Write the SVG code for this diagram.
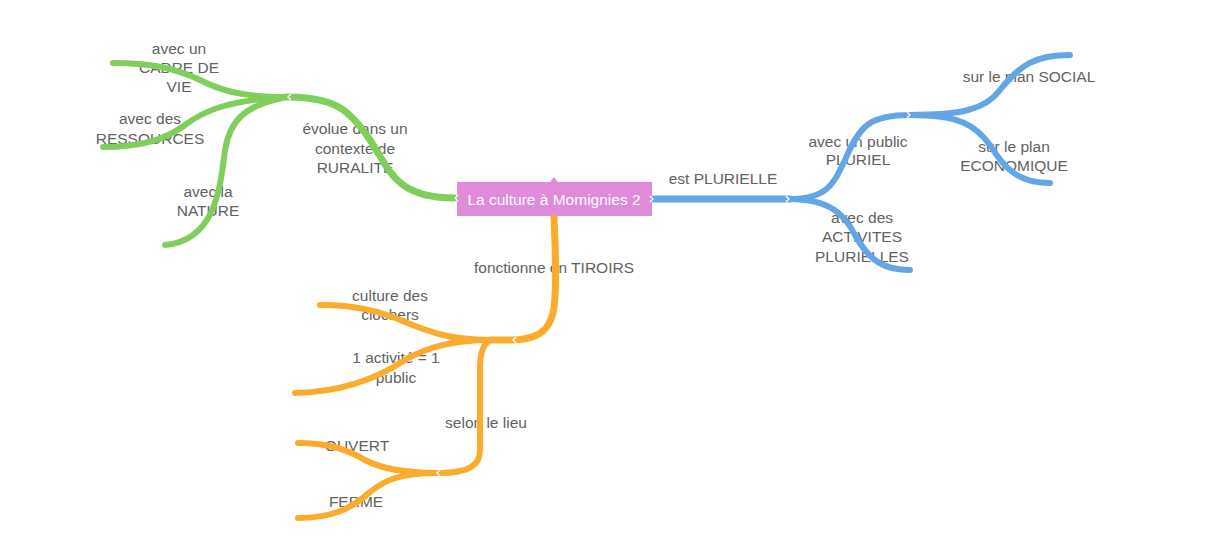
<svg xmlns="http://www.w3.org/2000/svg" width="1225" height="551" viewBox="0 0 1225 551">
<style>
.t{font-family:"Liberation Sans",Arial,sans-serif;font-size:15.5px;fill:#626262;text-anchor:middle}
.ct{font-family:"Liberation Sans",Arial,sans-serif;font-size:15.5px;fill:#fff;text-anchor:middle}
.g{stroke:#80cf5d;fill:none;stroke-linecap:round}
.b{stroke:#62a6e6;fill:none;stroke-linecap:round}
.o{stroke:#fcab2c;fill:none;stroke-linecap:round}
.m{stroke-width:7}
.s{stroke-width:6}
.ch{stroke:#fff;stroke-width:1.3;fill:none}
</style>
<rect width="1225" height="551" fill="#fff"/>
<g id="center">
<rect x="457" y="182" width="195" height="34" fill="#e08bd9"/>
<path d="M550,182 L554,177 L558,182 Z M550,216 L554,221 L558,216 Z" fill="#e08bd9"/>
<text class="ct" x="554" y="204.5">La culture à Momignies 2</text>
</g>
<g id="n-ruralite"><text class="t" x="355" y="134">évolue dans un</text><text class="t" x="355" y="154">contexte de</text><text class="t" x="355" y="173">RURALITE</text></g>
<g id="n-cadre"><text class="t" x="179" y="54">avec un</text><text class="t" x="179" y="73">CADRE DE</text><text class="t" x="179" y="92">VIE</text></g>
<g id="n-ressources"><text class="t" x="150" y="124">avec des</text><text class="t" x="150" y="144">RESSOURCES</text></g>
<g id="n-nature"><text class="t" x="208" y="197">avec la</text><text class="t" x="208" y="216">NATURE</text></g>
<g id="n-plurielle"><text class="t" x="723" y="184">est PLURIELLE</text></g>
<g id="n-public"><text class="t" x="858" y="147">avec un public</text><text class="t" x="858" y="165">PLURIEL</text></g>
<g id="n-activites"><text class="t" x="862" y="223">avec des</text><text class="t" x="862" y="242">ACTIVITES</text><text class="t" x="862" y="262">PLURIELLES</text></g>
<g id="n-social"><text class="t" x="1029" y="82">sur le plan SOCIAL</text></g>
<g id="n-eco"><text class="t" x="1014" y="152">sur le plan</text><text class="t" x="1014" y="171">ECONOMIQUE</text></g>
<g id="n-tiroirs"><text class="t" x="554" y="273">fonctionne en TIROIRS</text></g>
<g id="n-clochers"><text class="t" x="390" y="301">culture des</text><text class="t" x="390" y="320">clochers</text></g>
<g id="n-activite"><text class="t" x="396" y="363">1 activité = 1</text><text class="t" x="396" y="383">public</text></g>
<g id="n-lieu"><text class="t" x="486" y="428">selon le lieu</text></g>
<g id="n-ouvert"><text class="t" x="357" y="451">OUVERT</text></g>
<g id="n-ferme"><text class="t" x="356" y="507">FERME</text></g>
<g id="connectors">
<path class="g m" d="M455,198 C395,198 390,170 370,140 C350,110 335,97 287,97"/>
<path class="g s" d="M287,97 C240,97 220,90 200,80 C175,68 150,63 113,63"/>
<path class="g s" d="M287,97 C230,100 205,110 185,125 C165,140 140,147 103,147"/>
<path class="g s" d="M287,97 C245,105 230,120 225,150 C220,190 215,240 165,245"/>
<path class="b m" d="M654,199 L790,199"/>
<path class="b s" d="M790,199 C830,199 835,180 845,160 C860,125 870,115 910,115"/>
<path class="b s" d="M790,199 C830,199 845,215 855,235 C870,262 885,270 910,270"/>
<path class="b s" d="M910,115 C960,115 985,110 1000,90 C1020,65 1035,55 1070,55"/>
<path class="b s" d="M910,115 C960,115 975,125 990,145 C1005,170 1020,183 1050,183"/>
<path class="o m" d="M554,218 C556,260 556,300 553,313 C548,333 535,340 510,340 L490,340"/>
<path class="o s" d="M490,340 C450,340 430,332 405,322 C380,311 355,305 320,305"/>
<path class="o s" d="M490,340 C450,340 425,348 405,360 C375,380 340,392 295,393"/>
<path class="o s" d="M490,340 C482,345 480,355 480,370 L480,450 C480,465 470,473 437,473"/>
<path class="o s" d="M437,473 C400,473 380,468 365,460 C345,448 325,443 298,443"/>
<path class="o s" d="M437,473 C400,473 385,480 370,492 C350,510 330,518 298,518"/>
<path class="ch" d="M291,94 L288,97 L291,100 M458,195 L455,198 L458,201 M650,196 L653,199 L650,202 M786,196 L789,199 L786,202 M907,112 L910,115 L907,118 M516,337 L513,340 L516,343 M440,470 L437,473 L440,476"/>
</g>
</svg>
